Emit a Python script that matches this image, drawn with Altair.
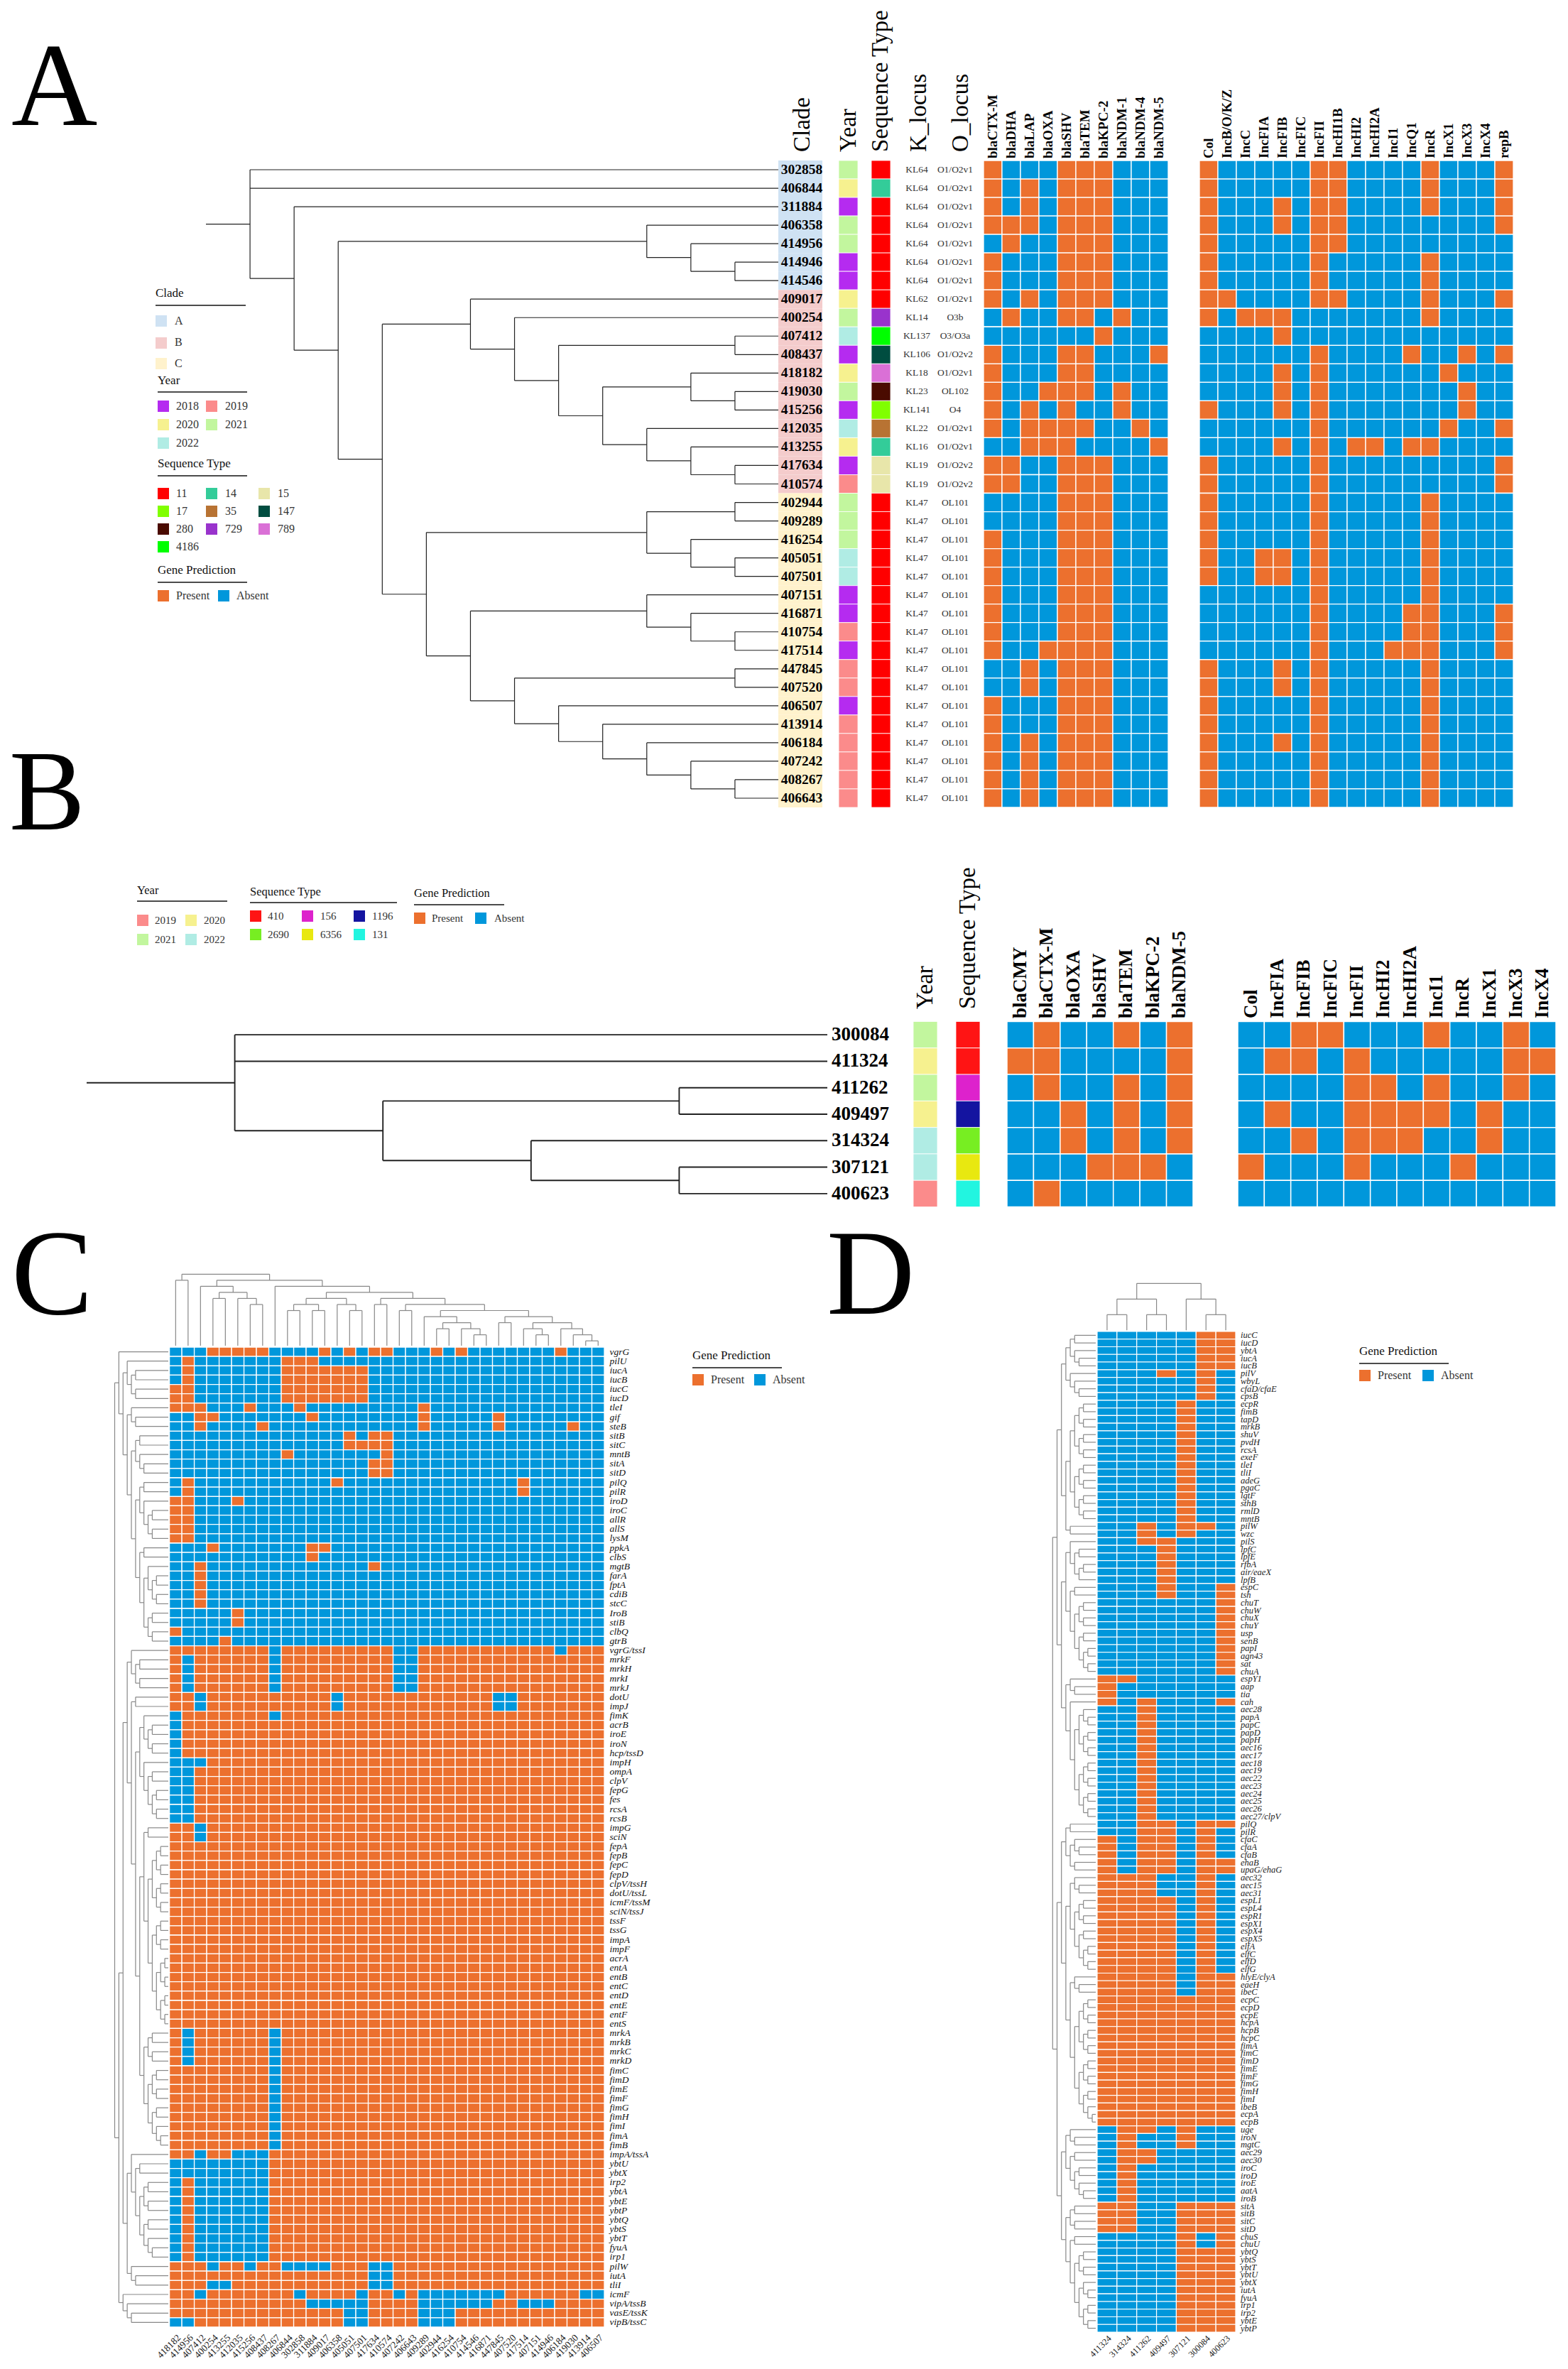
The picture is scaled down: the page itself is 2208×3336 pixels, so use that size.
import altair as alt
import pandas as pd

ORANGE = "#EC702E"
BLUE = "#0097DB"
SERIF = "Liberation Serif"
W, H = 2192, 3320

# ---------- Panel A data ----------
A_SAMPLES = ["302858","406844","311884","406358","414956","414946","414546","409017","400254","407412","408437","418182","419030","415256","412035","413255","417634","410574","402944","409289","416254","405051","407501","407151","416871","410754","417514","447845","407520","406507","413914","406184","407242","408267","406643"]
A_CLADE = ["A"]*7 + ["B"]*11 + ["C"]*17
A_YEAR = ["2021","2020","2018","2021","2021","2018","2018","2020","2021","2022","2018","2020","2021","2018","2022","2020","2018","2019","2021","2021","2021","2022","2022","2018","2018","2019","2018","2019","2019","2018","2019","2019","2019","2019","2019"]
A_ST = ["11","14","11","11","11","11","11","11","729","4186","147","789","280","17","35","14","15","15"] + ["11"]*17
A_K = ["KL64"]*7 + ["KL62","KL14","KL137","KL106","KL18","KL23","KL141","KL22","KL16","KL19","KL19"] + ["KL47"]*17
A_O = ["O1/O2v1"]*8 + ["O3b","O3/O3a","O1/O2v2","O1/O2v1","OL102","O4","O1/O2v1","O1/O2v1","O1/O2v2","O1/O2v2"] + ["OL101"]*17
A_BLA = ["blaCTX-M","blaDHA","blaLAP","blaOXA","blaSHV","blaTEM","blaKPC-2","blaNDM-1","blaNDM-4","blaNDM-5"]
A_BLA_M = ["1000111000","1010111000","1010111000","1110111000","0100111000","1000111000","1000111000","1010111000","0100110100","0000001000","1000110001","1000110000","1001110100","1010100100","1011110010","0011100001","1100111000","1100111000","0000111000","0000111000","1000111000","1000111000","1000111000","1000111000","1000111000","1000111000","1001111000","0010111000","0010111000","1000111000","1000111000","1010111000","1010111000","1010111000","1010111000"]
A_INC = ["Col","IncB/O/K/Z","IncC","IncFIA","IncFIB","IncFIC","IncFII","IncHI1B","IncHI2","IncHI2A","IncI1","IncQ1","IncR","IncX1","IncX3","IncX4","repB"]
A_INC_P = [[0,6,7,12,16],[0,6,7,12,16],[0,4,6,7,12,16],[0,4,6,7,16],[0,6,7],[0,6,12],[0,6,12],[0,1,6,7,12,16],[0,2,3,4,12],[4],[6,11,14,16],[4,6,13],[4,6,14],[0,4,6,14],[6,13,16],[4,6,8,9,11,12],[0,6,16],[0,6,16],[0,6,12],[0,6,12],[0,6,12],[0,3,4,6,12],[0,3,4,6,12],[6,12],[6,11,12,16],[6,11,12,16],[6,10,11,12,16],[0,4,6,12],[0,4,6,12],[0,6,12],[0,6,12],[0,4,6,12],[0,6,12],[0,6,12],[0,6,12]]
A_TREE = ["302858","406844",["311884",[["406358",["414956",["414946","414546"]]],[["409017",["400254",[["407412","408437"],[["418182",["419030","415256"]],["412035",["413255",["417634","410574"]]]]]]],[[["402944","409289"],["416254",["405051","407501"]]],[["407151",["416871",["410754","417514"]]],[["447845","407520"],["406507",["413914",["406184",["407242",["408267","406643"]]]]]]]]]]]]

# ---------- Panel B data ----------
B_SAMPLES = ["300084","411324","411262","409497","314324","307121","400623"]
B_YEAR = ["2021","2020","2021","2020","2022","2022","2019"]
B_ST = ["410","410","156","1196","2690","6356","131"]
B_BLA = ["blaCMY","blaCTX-M","blaOXA","blaSHV","blaTEM","blaKPC-2","blaNDM-5"]
B_BLA_M = ["0100101","1100001","0100101","0010101","0010101","0001110","0100000"]
B_INC = ["Col","IncFIA","IncFIB","IncFIC","IncFII","IncHI2","IncHI2A","IncI1","IncR","IncX1","IncX3","IncX4"]
B_INC_M = ["001100010010","011010000011","000011010010","010011110100","001011100100","100010001000","000000000000"]
B_TREE = ["300084","411324",[["411262","409497"],["314324",["307121","400623"]]]]

# ---------- Panel C data ----------
C_GENES = ["vgrG","pilU","iucA","iucB","iucC","iucD","tleI","gif","steB","sitB","sitC","mntB","sitA","sitD","pilQ","pilR","iroD","iroC","allR","allS","lysM","ppkA","clbS","mgtB","farA","fptA","cdiB","stcC","IroB","stiB","clbQ","gtrB","vgrG/tssI","mrkF","mrkH","mrkI","mrkJ","dotU","impJ","fimK","acrB","iroE","iroN","hcp/tssD","impH","ompA","clpV","fepG","fes","rcsA","rcsB","impG","sciN","fepA","fepB","fepC","fepD","clpV/tssH","dotU/tssL","icmF/tssM","sciN/tssJ","tssF","tssG","impA","impF","acrA","entA","entB","entC","entD","entE","entF","entS","mrkA","mrkB","mrkC","mrkD","fimC","fimD","fimE","fimF","fimG","fimH","fimI","fimA","fimB","impA/tssA","ybtU","ybtX","irp2","ybtA","ybtE","ybtP","ybtQ","ybtS","ybtT","fyuA","irp1","pilW","iutA","tliI","icmF","vipA/tssB","vasE/tssK","vipB/tssC"]
C_SAMPLES = ["418182","414956","407412","400254","413255","412035","415256","408437","408267","406844","302858","311884","409017","406358","405051","407501","417634","410574","407242","406643","409289","402944","416254","410754","414546","416871","447845","407520","417514","407151","414946","406184","419030","413914","406507"]
C_TOP_PRESENT = [[3,4,5,6,7,12,14,16,17,21,23,31],[1,9,10,11],[1,9,10,11,12,13,14,15],[1,9,10,11,12,13,14,15],[0,1,9,10,11,12,13,14,15],[0,1,9,10,11,12,13,14,15],[0,1,2,6,10,20],[2,3,11,20,26],[2,7,20,26,32],[14,16,17],[14,15,16,17],[9,17],[16,17],[16,17],[1,13,28],[1,28],[0,1,5],[0,1],[0,1],[0,1],[0,1],[3,11,12],[11],[2,16],[2],[2],[2],[2],[5],[5],[0],[4]]
C_LOW_ABSENT = [[8,18,19,31],[1,8,18,19],[1,8,18,19],[1,8,18,19],[1,8,18,19],[2,13,26,27],[2,13,26,27],[0,8],[0],[0],[0],[0],[0,1,2],[0,1],[0,1],[0,1],[0,1],[0,1],[0,1],[2],[2]] + [[]]*20 + [[1,8]]*4 + [[8]]*9 + [[2,5,6,7],[0,1,2,3,4,5,6,7],[0,1,2,3,4,5,6,7]] + [[0,2,3,4,5,6,7]]*9 + [[3,6,9,10,11,12,16,17],[16,17],[3,4,16,17],[2,10,15,18,20,21,22,23,24,25,26,33,34],[11,12,13,14,15,20,21,22,23,24,25,28,29,30],[14,15,20,21,22],[0,1,14,15,20,21,22]]
C_COL_TREE = [[0,1],[[2,[[3,4],[5,[6,7]]]],[8,[[[[9,10],[11,12]],[13,[14,15]]],[[16,17],[[18,19],[[20,[[21,22],[23,[24,25]]]],[[26,27],[[28,[29,30]],[31,[32,[33,34]]]]]]]]]]]]
C_ROW_TREE = [[0,[[1,[[2,3],[4,5]]],[[6,[7,8]],[[[9,10],[11,[12,13]]],[[[14,15],[16,[[17,18],[19,20]]]],[[21,22],[[23,[[24,25],[26,27]]],[[28,29],[30,31]]]]]]]]],
 [[[[32,[[33,34],[35,36]]],[[37,38],[[[39,[[40,41],[42,43]]],[44,[[45,46],[[47,48],[49,50]]]]],[[[51,52],[[[[53,54],[55,56]],[[57,58],[59,60]]],[[[61,62],[63,64]],[[[65,66],[67,68]],[[69,70],[71,72]]]]]],[[[73,74],[75,76]],[[[77,78],[79,80]],[[81,82],[83,[84,85]]]]]]]]],[[86,[[87,88],[[[89,90],[91,92]],[[93,94],[95,[96,97]]]]]],[98,[99,100]]]],[101,[102,[103,104]]]]]

# ---------- Panel D data ----------
D_GENES = ["iucC","iucD","ybtA","iucA","iucB","pilV","wbyL","cfaD/cfaE","cpsB","ecpR","fimB","tapD","mrkB","shuV","pvdH","rcsA","exeF","tleI","tliI","adeG","pgaC","lgtF","sthB","rmlD","mntB","pilW","wzc","pilS","lpfC","lpfE","rfbA","air/eaeX","lpfB","espC","tsh","chuT","chuW","chuX","chuY","usp","senB","papI","agn43","sat","chuA","espY1","aap","tia","cah","aec28","papA","papC","papD","papH","aec16","aec17","aec18","aec19","aec22","aec23","aec24","aec25","aec26","aec27/clpV","pilQ","pilR","cfaC","cfaA","cfaB","ehaB","upaG/ehaG","aec32","aec15","aec31","espL1","espL4","espR1","espX1","espX4","espX5","elfA","elfC","elfD","elfG","hlyE/clyA","eaeH","ibeC","ecpC","ecpD","ecpE","hcpA","hcpB","hcpC","fimA","fimC","fimD","fimE","fimF","fimG","fimH","fimI","ibeB","ecpA","ecpB","uge","iroN","mgtC","aec29","aec30","iroC","iroD","iroE","aatA","iroB","sitA","sitB","sitC","sitD","chuS","chuU","ybtQ","ybtS","ybtT","ybtU","ybtX","iutA","fyuA","irp1","irp2","ybtE","ybtP"]
D_SAMPLES = ["411324","314324","411262","409497","307121","300084","400623"]
D_RUNS = [(5,"56"),(1,"35"),(3,"5"),(16,"4"),(1,"245"),(1,"24"),(1,"23"),(5,"3"),(2,"36"),(10,"6"),(1,"01"),(2,"0"),(1,"026"),(15,"2"),(1,"2356"),(1,"235"),(3,"0235"),(2,"02356"),(3,"0125"),(10,"01235"),(3,"012356"),(17,"0123456"),(1,"124"),(2,"14"),(2,"12"),(5,"1"),(4,"01456"),(2,"46"),(11,"456")]
D_COL_TREE = [[[0,1],[2,3]],[4,[5,6]]]
D_ROW_TREE = [[[[[[0,1],[2,[3,4]]],[5,[6,[7,8]]]],[[[[[9,10],[11,12]],[[13,14],[15,16]]],[[[17,18],[19,20]],[[21,22],[23,24]]]],[25,26]]],
 [[[27,[[28,29],[[30,31],32]]],[[33,34],[[[35,36],[37,38]],[[39,40],[[41,42],[43,44]]]]]],[[45,[46,47]],[48,[[[49,[50,51]],[[52,53],[54,55]]],[[[56,57],[58,59]],[[60,61],[62,63]]]]]]]],
 [[[[64,65],[[66,[67,68]],[69,70]]],[[[71,[72,73]],[[[74,75],[76,77]],[[78,79],[[80,81],[82,83]]]]],[[84,[85,86]],[[[[87,88],[89,90]],[[91,92],[93,94]]],[[[95,96],[97,98]],[[99,100],[101,[102,103]]]]]]]],
  [[[104,[105,106]],[[107,108],[[109,110],[111,[112,113]]]]],[[[114,115],[116,117]],[[118,119],[[[120,121],[122,123]],[[124,[125,126]],[[127,128],[129,130]]]]]]]]]

# ---------- Colours ----------
CLADE_COLORS = {"A":"#CFE2F3","B":"#F4CCCC","C":"#FFF2CC"}
YEAR_COLORS = {"2018":"#B52BF0","2019":"#FB8B8B","2020":"#F6F18F","2021":"#C2F69E","2022":"#B0ECE4"}
ST_A_COLORS = {"11":"#FF0000","14":"#33CC99","15":"#E8E6AA","17":"#80FF00","35":"#B87333","147":"#004D40","280":"#4A0B00","729":"#9933CC","789":"#DA70D6","4186":"#00FF00"}
ST_B_COLORS = {"410":"#FF1414","156":"#DD22CC","1196":"#1414A0","2690":"#77EE22","6356":"#E8E810","131":"#22F5E0"}

# ---------- Scales ----------
PX = alt.Scale(domain=[8, 8 + W], range=[0, W], nice=False, zero=False)
PY = alt.Scale(domain=[8, 8 + H], range=[0, H], nice=False, zero=False)
STATE = alt.Scale(domain=["Present", "Absent"], range=[ORANGE, BLUE])

def band(domain, a, b):
    return alt.Scale(type="band", domain=domain, range=[a - 8, b - 8], paddingInner=0, paddingOuter=0)

def xband(field, domain, a, b):
    return alt.X(field, scale=band(domain, a, b), axis=None, sort=None)

def yband(field, domain, a, b):
    return alt.Y(field, scale=band(domain, a, b), axis=None, sort=None)

layers = []

def grid(rows, cols, present, box, sw=1.3):
    x0, x1, y0, y1 = box
    recs = []
    for r, row in enumerate(rows):
        for c, col in enumerate(cols):
            recs.append({"row": row, "col": col, "state": "Present" if c in present[r] else "Absent"})
    layers.append(alt.Chart(pd.DataFrame(recs)).mark_rect(stroke="white", strokeWidth=sw).encode(
        x=xband("col:N", cols, x0, x1), y=yband("row:N", rows, y0, y1),
        color=alt.Color("state:N", scale=STATE, legend=None)))

def strip(rows, values, colors, x0, x1, y0, y1, sw=0.8):
    df = pd.DataFrame({"row": rows, "v": values, "col": "c"})
    layers.append(alt.Chart(df).mark_rect(stroke="white", strokeWidth=sw).encode(
        x=xband("col:N", ["c"], x0, x1), y=yband("row:N", rows, y0, y1),
        color=alt.Color("v:N", scale=alt.Scale(domain=list(colors), range=list(colors.values())), legend=None)))

def row_text(rows, texts, x, y0, y1, size, align="left", color="#000", weight="normal", style="normal"):
    df = pd.DataFrame({"row": rows, "t": texts})
    layers.append(alt.Chart(df).mark_text(font=SERIF, fontSize=size, align=align, baseline="middle", color=color, fontWeight=weight, fontStyle=style).encode(
        x=alt.value(x - 8), y=yband("row:N", rows, y0, y1), text="t:N"))

def col_text(cols, x0, x1, y, size, angle=270, align="left", baseline="middle", weight="normal", style="normal", color="#000"):
    df = pd.DataFrame({"col": cols})
    layers.append(alt.Chart(df).mark_text(font=SERIF, fontSize=size, angle=angle, align=align, baseline=baseline, fontWeight=weight, fontStyle=style, color=color).encode(
        x=xband("col:N", cols, x0, x1), y=alt.value(y - 8), text="col:N"))

def page_text(items, size, align="left", baseline="middle", color="#111", angle=0, weight="normal"):
    df = pd.DataFrame(items, columns=["t", "x", "y"])
    layers.append(alt.Chart(df).mark_text(font=SERIF, fontSize=size, align=align, baseline=baseline, color=color, angle=angle, fontWeight=weight).encode(
        x=alt.X("x:Q", scale=PX, axis=None), y=alt.Y("y:Q", scale=PY, axis=None), text="t:N"))

def swatches(items, w=16, h=16):
    df = pd.DataFrame([{"x": x, "x2": x + w, "y": y - h / 2, "y2": y + h / 2, "c": c} for c, x, y in items])
    layers.append(alt.Chart(df).mark_rect().encode(
        x=alt.X("x:Q", scale=PX, axis=None), x2="x2:Q",
        y=alt.Y("y:Q", scale=PY, axis=None), y2="y2:Q",
        color=alt.Color("c:N", scale=None)))

def page_rules(items, width=1.6):
    df = pd.DataFrame(items, columns=["x", "x2", "y"])
    layers.append(alt.Chart(df).mark_rule(color="#111", strokeWidth=width).encode(
        x=alt.X("x:Q", scale=PX, axis=None), x2="x2:Q", y=alt.Y("y:Q", scale=PY, axis=None)))

def height_of(n):
    return 0 if not isinstance(n, list) else 1 + max(height_of(c) for c in n)

def walk(node, level_of, pos_of, depth, out):
    """Return (position, level) of node, appending connector segments."""
    if not isinstance(node, list):
        return pos_of(node), None
    lvl = level_of(node, depth)
    kids = [walk(c, level_of, pos_of, depth + 1, out) for c in node]
    ps = [k[0] for k in kids]
    out["v"].append({"lvl": lvl, "a": min(ps), "b": max(ps)})
    for p, l in kids:
        out["h"].append({"a": lvl, "b": l, "pos": p})
    return (min(ps) + max(ps)) / 2, lvl

def tree(node, leaves, lvl_dom, lvl_rng, pos_rng, orient, mode, color, sw):
    """orient 'row': level on x, leaf on y. 'col': level on y, leaf on x."""
    H_ = height_of(node)
    tip = lvl_dom[1]
    idx = {l: i for i, l in enumerate(leaves)}
    out = {"v": [], "h": []}
    if mode == "height":
        level_of = lambda n, d: H_ - height_of(n)
    else:
        level_of = lambda n, d: d
    pos_of = lambda l: (l if isinstance(l, int) else idx[l]) + 0.5
    root_pos, root_lvl = walk(node, level_of, pos_of, 0, out)
    for s in out["h"]:
        if s["b"] is None:
            s["b"] = tip
    if mode == "height":
        out["h"].append({"a": lvl_dom[0], "b": root_lvl, "pos": root_pos})
    h = pd.DataFrame(out["h"])
    v = pd.DataFrame(out["v"])
    n = len(leaves)
    lvl_s = alt.Scale(domain=list(lvl_dom), range=[lvl_rng[0] - 8, lvl_rng[1] - 8], nice=False, zero=False)
    pos_s = alt.Scale(domain=[0, n], range=[pos_rng[0] - 8, pos_rng[1] - 8], nice=False, zero=False)
    mark = dict(color=color, strokeWidth=sw)
    if orient == "row":
        layers.append(alt.Chart(h).mark_rule(**mark).encode(
            x=alt.X("a:Q", scale=lvl_s, axis=None), x2="b:Q", y=alt.Y("pos:Q", scale=pos_s, axis=None)))
        layers.append(alt.Chart(v).mark_rule(**mark).encode(
            x=alt.X("lvl:Q", scale=lvl_s, axis=None), y=alt.Y("a:Q", scale=pos_s, axis=None), y2="b:Q"))
    else:
        layers.append(alt.Chart(h).mark_rule(**mark).encode(
            y=alt.Y("a:Q", scale=lvl_s, axis=None), y2="b:Q", x=alt.X("pos:Q", scale=pos_s, axis=None)))
        layers.append(alt.Chart(v).mark_rule(**mark).encode(
            y=alt.Y("lvl:Q", scale=lvl_s, axis=None), x=alt.X("a:Q", scale=pos_s, axis=None), x2="b:Q"))

def gene_legend(x, y_title, y_rule, y_sw, x_absent_sw, size=16):
    page_text([("Gene Prediction", x, y_title)], size + 1)
    page_rules([(x, x + 126, y_rule)], 1.4)
    swatches([(ORANGE, x, y_sw), (BLUE, x_absent_sw, y_sw)])
    page_text([("Present", x + 26, y_sw), ("Absent", x_absent_sw + 26, y_sw)], size, color="#333")

# ---------- Panel letters ----------
page_text([("A", 16, 176)], 168, baseline="alphabetic", color="#000")
page_text([("B", 13, 1168)], 160, baseline="alphabetic", color="#000")
page_text([("C", 16, 1850), ("D", 1164, 1850)], 172, baseline="alphabetic", color="#000")

# ---------- Panel A ----------
AY0, AY1 = 226, 1137
tree(A_TREE, A_SAMPLES, (-1, 12), (290, 1097), (AY0, AY1), "row", "height", "#222", 1.2)
strip(A_SAMPLES, A_CLADE, CLADE_COLORS, 1096, 1158, AY0, AY1, 0)
strip(A_SAMPLES, A_YEAR, YEAR_COLORS, 1181, 1208, AY0, AY1)
strip(A_SAMPLES, A_ST, ST_A_COLORS, 1227, 1254, AY0, AY1)
row_text(A_SAMPLES, A_SAMPLES, 1129, AY0, AY1, 19.5, align="center", weight="bold")
row_text(A_SAMPLES, A_K, 1291, AY0, AY1, 13.5, align="center", color="#333")
row_text(A_SAMPLES, A_O, 1345, AY0, AY1, 13.5, align="center", color="#333")
grid(A_SAMPLES, A_BLA, [{i for i, ch in enumerate(s) if ch == "1"} for s in A_BLA_M], (1385, 1645, AY0, AY1))
grid(A_SAMPLES, A_INC, [set(p) for p in A_INC_P], (1689, 2131, AY0, AY1))
col_text(A_BLA, 1385, 1645, 223, 19, weight="bold")
col_text(A_INC, 1689, 2131, 223, 19, weight="bold")
page_text([("Clade", 1130, 214), ("Year", 1195, 214), ("Sequence Type", 1240, 214), ("K_locus", 1294, 214), ("O_locus", 1353, 214)], 33, angle=270, color="#000")

page_text([("Clade", 219, 413)], 17)
page_rules([(219, 346, 430)])
swatches([(CLADE_COLORS["A"], 219, 452), (CLADE_COLORS["B"], 219, 483), (CLADE_COLORS["C"], 219, 512)])
page_text([("A", 246, 452), ("B", 246, 482), ("C", 246, 512)], 16, color="#333")
page_text([("Year", 222, 536)], 17)
page_rules([(222, 348, 552)])
swatches([(YEAR_COLORS["2018"], 222, 572), (YEAR_COLORS["2019"], 290, 572), (YEAR_COLORS["2020"], 222, 598), (YEAR_COLORS["2021"], 290, 598), (YEAR_COLORS["2022"], 222, 624)])
page_text([("2018", 248, 572), ("2019", 317, 572), ("2020", 248, 598), ("2021", 317, 598), ("2022", 248, 624)], 16, color="#333")
page_text([("Sequence Type", 222, 653)], 17)
page_rules([(222, 348, 670)])
swatches([(ST_A_COLORS["11"], 222, 695), (ST_A_COLORS["14"], 290, 695), (ST_A_COLORS["15"], 364, 695), (ST_A_COLORS["17"], 222, 720), (ST_A_COLORS["35"], 290, 720), (ST_A_COLORS["147"], 364, 720), (ST_A_COLORS["280"], 222, 745), (ST_A_COLORS["729"], 290, 745), (ST_A_COLORS["789"], 364, 745), (ST_A_COLORS["4186"], 222, 770)])
page_text([("11", 248, 695), ("14", 317, 695), ("15", 391, 695), ("17", 248, 720), ("35", 317, 720), ("147", 391, 720), ("280", 248, 745), ("729", 317, 745), ("789", 391, 745), ("4186", 248, 770)], 16, color="#333")
gene_legend(222, 803, 820, 839, 307)

# ---------- Panel B ----------
BY0, BY1 = 1438.5, 1699.5
tree(B_TREE, B_SAMPLES, (-1, 4), (122, 1165), (BY0, BY1), "row", "height", "#222", 1.9)
row_text(B_SAMPLES, B_SAMPLES, 1171, BY0, BY1, 27, weight="bold")
strip(B_SAMPLES, B_YEAR, YEAR_COLORS, 1286, 1320, BY0, BY1)
strip(B_SAMPLES, B_ST, ST_B_COLORS, 1346, 1380, BY0, BY1)
grid(B_SAMPLES, B_BLA, [{i for i, ch in enumerate(s) if ch == "1"} for s in B_BLA_M], (1418, 1680, BY0, BY1), 1.5)
grid(B_SAMPLES, B_INC, [{i for i, ch in enumerate(s) if ch == "1"} for s in B_INC_M], (1743, 2191, BY0, BY1), 1.5)
col_text(B_BLA, 1418, 1680, 1434, 27, weight="bold")
col_text(B_INC, 1743, 2191, 1434, 27, weight="bold")
page_text([("Year", 1303, 1421), ("Sequence Type", 1363, 1421)], 33, angle=270, color="#000")
page_text([("Year", 193, 1254), ("Sequence Type", 352, 1256), ("Gene Prediction", 583, 1258)], 16.5)
page_rules([(193, 320, 1269), (352, 559, 1271), (583, 710, 1274)])
swatches([(YEAR_COLORS["2019"], 193, 1296), (YEAR_COLORS["2020"], 261, 1296), (YEAR_COLORS["2021"], 193, 1323), (YEAR_COLORS["2022"], 261, 1323),
          (ST_B_COLORS["410"], 352, 1290), (ST_B_COLORS["156"], 425, 1290), (ST_B_COLORS["1196"], 498, 1290), (ST_B_COLORS["2690"], 352, 1316), (ST_B_COLORS["6356"], 425, 1316), (ST_B_COLORS["131"], 498, 1316),
          (ORANGE, 583, 1293), (BLUE, 669, 1293)])
page_text([("2019", 218, 1296), ("2020", 287, 1296), ("2021", 218, 1323), ("2022", 287, 1323), ("410", 377, 1290), ("156", 451, 1290), ("1196", 524, 1290), ("2690", 377, 1316), ("6356", 451, 1316), ("131", 524, 1316), ("Present", 608, 1293), ("Absent", 696, 1293)], 15, color="#333")

# ---------- Panel C ----------
CX0, CX1, CY0, CY1 = 238.6, 851, 1897, 3277
C_PRESENT = [set(p) for p in C_TOP_PRESENT] + [set(range(len(C_SAMPLES))) - set(a) for a in C_LOW_ABSENT]
tree(C_COL_TREE, C_SAMPLES, (0, 11.8), (1794.3, 1895), (CX0, CX1), "col", "depth", "#888", 1.2)
tree(C_ROW_TREE, C_GENES, (0, 12.84), (161.5, 237), (CY0, CY1), "row", "depth", "#888", 1.2)
grid(C_GENES, C_SAMPLES, C_PRESENT, (CX0, CX1, CY0, CY1), 1.3)
row_text(C_GENES, C_GENES, 858.5, CY0, CY1, 13.5, style="italic", color="#111")
col_text(C_SAMPLES, CX0 + 5, CX1 + 5, 3290, 13.5, angle=315, align="right", color="#222")
gene_legend(975, 1909, 1926, 1943, 1062)

# ---------- Panel D ----------
DX0, DX1, DY0, DY1 = 1545, 1740, 1875, 3284
D_PRESENT = []
for count, cols in D_RUNS:
    for _ in range(count):
        D_PRESENT.append({int(ch) for ch in cols})
tree(D_COL_TREE, D_SAMPLES, (0, 3), (1807.3, 1873.3), (DX0, DX1), "col", "depth", "#888", 1.2)
tree(D_ROW_TREE, D_GENES, (0, 9.8), (1482.3, 1543), (DY0, DY1), "row", "depth", "#888", 1.2)
grid(D_GENES, D_SAMPLES, D_PRESENT, (DX0, DX1, DY0, DY1), 1.2)
row_text(D_GENES, D_GENES, 1747, DY0, DY1, 12.5, style="italic", color="#222")
col_text(D_SAMPLES, DX0 + 4, DX1 + 4, 3291, 12.5, angle=315, align="right", color="#222")
gene_legend(1914, 1903, 1920, 1937, 2003)

chart = alt.layer(*layers).resolve_scale(x="independent", y="independent", color="independent").properties(
    width=W, height=H, padding=0, autosize=alt.AutoSizeParams(type="none"), background="white"
).configure_view(stroke=None)

chart.save("out.html", embed_options={"renderer": "svg", "actions": False})
